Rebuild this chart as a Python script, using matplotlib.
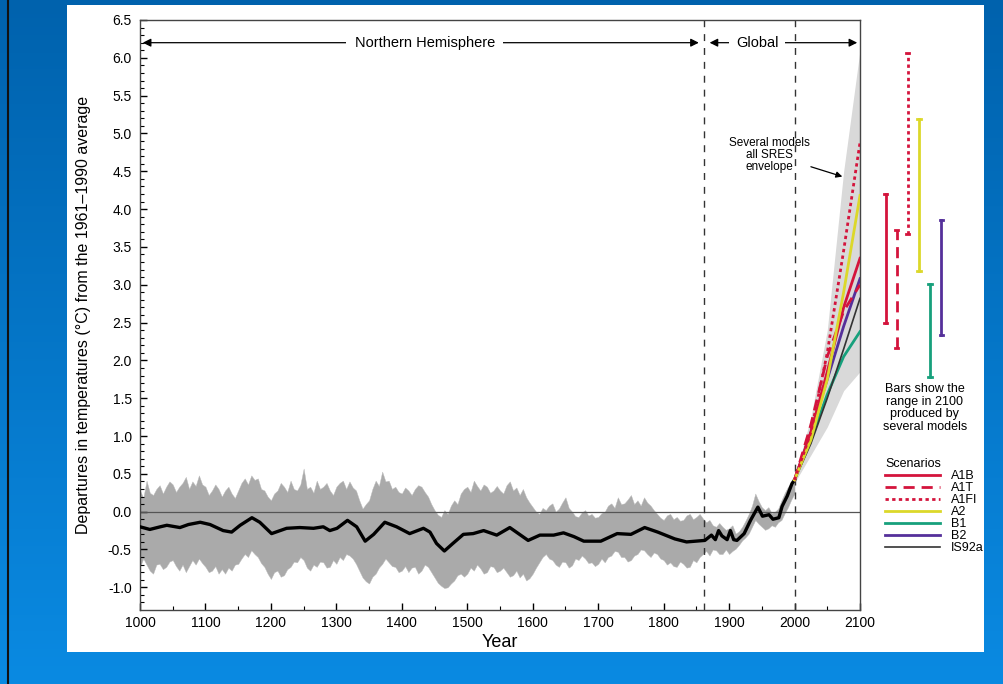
import numpy as np
import matplotlib
matplotlib.use('Agg')
import matplotlib.pyplot as plt
from matplotlib.patches import Rectangle
from matplotlib.lines import Line2D

plt.rcParams['font.family'] = ['Liberation Sans', 'DejaVu Sans']

# NH reconstruction band (upper / lower edge), every 5 years
band_years = list(range(1000, 2001, 5))
band_upper = [0.28, 0.18, 0.41, 0.25, 0.22, 0.30, 0.35, 0.24, 0.33, 0.40,
              0.36, 0.26, 0.33, 0.38, 0.46, 0.30, 0.40, 0.34, 0.48, 0.36,
              0.33, 0.22, 0.28, 0.36, 0.30, 0.20, 0.28, 0.33, 0.24, 0.18,
              0.28, 0.38, 0.44, 0.36, 0.48, 0.42, 0.44, 0.30, 0.28, 0.20,
              0.15, 0.24, 0.28, 0.38, 0.33, 0.26, 0.41, 0.30, 0.28, 0.36,
              0.57, 0.30, 0.33, 0.25, 0.41, 0.30, 0.33, 0.38, 0.28, 0.22,
              0.33, 0.38, 0.41, 0.30, 0.40, 0.32, 0.28, 0.15, 0.04, 0.10,
              0.15, 0.30, 0.41, 0.34, 0.53, 0.40, 0.41, 0.30, 0.33, 0.26,
              0.24, 0.32, 0.28, 0.22, 0.30, 0.35, 0.33, 0.26, 0.20, 0.10,
              0.02, -0.04, -0.07, 0.02, -0.03, 0.08, 0.15, 0.10, 0.24, 0.30,
              0.33, 0.26, 0.41, 0.34, 0.28, 0.36, 0.33, 0.25, 0.28, 0.34,
              0.28, 0.24, 0.35, 0.40, 0.28, 0.32, 0.22, 0.30, 0.19, 0.12,
              0.06, 0.00, -0.03, 0.05, 0.02, 0.08, 0.11, 0.00, 0.04, 0.12,
              0.19, 0.05, 0.00, -0.06, -0.07, -0.01, 0.02, -0.05, -0.03, -0.08,
              -0.07, -0.02, 0.00, 0.08, 0.11, 0.05, 0.19, 0.10, 0.11, 0.16,
              0.22, 0.10, 0.15, 0.08, 0.19, 0.12, 0.08, 0.02, -0.03, -0.08,
              -0.11, -0.05, -0.03, -0.10, -0.07, -0.12, -0.11, -0.05, -0.03, -0.10,
              -0.07, -0.03, -0.09, -0.14, -0.11, -0.18, -0.20, -0.15, -0.20, -0.24,
              -0.22, -0.18, -0.29, -0.26, -0.20, -0.12, -0.03, 0.08, 0.24, 0.14,
              0.06, 0.02, 0.06, -0.02, 0.00, 0.04, 0.15, 0.25, 0.33, 0.38,
              0.42]
band_lower = [-0.73, -0.62, -0.70, -0.78, -0.82, -0.70, -0.69, -0.76, -0.73, -0.66,
              -0.64, -0.72, -0.78, -0.70, -0.80, -0.72, -0.64, -0.70, -0.62, -0.68,
              -0.73, -0.80, -0.78, -0.72, -0.82, -0.76, -0.82, -0.74, -0.78, -0.70,
              -0.69, -0.62, -0.56, -0.60, -0.51, -0.56, -0.60, -0.68, -0.73, -0.82,
              -0.89, -0.80, -0.78, -0.86, -0.84, -0.76, -0.73, -0.66, -0.67, -0.60,
              -0.64, -0.74, -0.78, -0.70, -0.73, -0.66, -0.67, -0.74, -0.73, -0.64,
              -0.69, -0.60, -0.64, -0.56, -0.58, -0.62, -0.69, -0.78, -0.87, -0.92,
              -0.95, -0.86, -0.82, -0.74, -0.69, -0.62, -0.67, -0.72, -0.73, -0.80,
              -0.78, -0.72, -0.80, -0.74, -0.73, -0.82, -0.78, -0.70, -0.73, -0.80,
              -0.87, -0.94, -0.98, -1.01, -1.00, -0.95, -0.91, -0.84, -0.82, -0.86,
              -0.82, -0.74, -0.78, -0.70, -0.75, -0.82, -0.80, -0.72, -0.73, -0.80,
              -0.78, -0.74, -0.80, -0.86, -0.84, -0.78, -0.87, -0.82, -0.91, -0.88,
              -0.82, -0.74, -0.67, -0.60, -0.56, -0.62, -0.64, -0.70, -0.73, -0.66,
              -0.67, -0.74, -0.71, -0.62, -0.64, -0.58, -0.62, -0.68, -0.67, -0.72,
              -0.69, -0.62, -0.67, -0.60, -0.58, -0.52, -0.53, -0.60, -0.60, -0.66,
              -0.64, -0.58, -0.56, -0.50, -0.51, -0.56, -0.60, -0.54, -0.56, -0.62,
              -0.64, -0.70, -0.67, -0.72, -0.73, -0.66, -0.69, -0.74, -0.73, -0.64,
              -0.67, -0.60, -0.56, -0.52, -0.58, -0.50, -0.51, -0.56, -0.56, -0.50,
              -0.56, -0.52, -0.49, -0.44, -0.38, -0.34, -0.29, -0.20, -0.11, -0.16,
              -0.20, -0.24, -0.22, -0.18, -0.20, -0.14, -0.11, -0.02, 0.06, 0.16,
              0.24]

# smoothed record (black line)
obs_years = [1000, 1015, 1031, 1041, 1061, 1074, 1092, 1107, 1127, 1140,
             1153, 1171, 1183, 1201, 1224, 1244, 1265, 1280, 1290, 1301,
             1317, 1331, 1344, 1357, 1374, 1392, 1412, 1433, 1443, 1453,
             1465, 1478, 1494, 1509, 1525, 1545, 1565, 1593, 1611, 1632,
             1647, 1663, 1678, 1704, 1729, 1750, 1771, 1791, 1817, 1835,
             1863, 1873, 1879, 1884, 1889, 1897, 1902, 1907, 1912, 1923,
             1933, 1944, 1951, 1961, 1967, 1976, 1981, 1989, 1996, 2000]
obs_temp = [-0.20, -0.235, -0.20, -0.18, -0.21, -0.17, -0.14, -0.17, -0.25, -0.27,
            -0.18, -0.08, -0.14, -0.29, -0.22, -0.21, -0.22, -0.20, -0.25, -0.22,
            -0.115, -0.20, -0.39, -0.30, -0.14, -0.20, -0.29, -0.22, -0.27, -0.42,
            -0.52, -0.42, -0.30, -0.29, -0.25, -0.31, -0.21, -0.38, -0.31, -0.31,
            -0.28, -0.33, -0.39, -0.39, -0.29, -0.30, -0.21, -0.27, -0.36, -0.40,
            -0.38, -0.31, -0.37, -0.25, -0.32, -0.37, -0.25, -0.37, -0.38, -0.29,
            -0.11, 0.06, -0.06, -0.04, -0.10, -0.08, 0.07, 0.21, 0.37, 0.42]

# projections
proj_years = [2000, 2025, 2050, 2075, 2100]
env_upper = [0.44, 1.25, 2.40, 4.50, 6.10]
env_lower = [0.38, 0.75, 1.12, 1.60, 1.85]
scen_names = ['A1B', 'A1T', 'A1FI', 'A2', 'B1', 'B2', 'IS92a']
scen_values = {
    'A1B':   [0.42, 1.05, 1.85, 2.70, 3.35],
    'A1T':   [0.42, 1.15, 2.05, 2.65, 3.00],
    'A1FI':  [0.42, 1.05, 2.10, 3.45, 4.88],
    'A2':    [0.42, 0.95, 1.75, 2.90, 4.18],
    'B1':    [0.42, 0.95, 1.55, 2.05, 2.38],
    'B2':    [0.42, 1.05, 1.75, 2.45, 3.08],
    'IS92a': [0.42, 0.90, 1.50, 2.15, 2.82],
}
# ranges in 2100 (bars to the right)
bar_names = ['A1B', 'A1T', 'A1FI', 'A2', 'B1', 'B2']
bar_low = [2.50, 2.16, 3.67, 3.18, 1.78, 2.33]
bar_high = [4.20, 3.73, 6.07, 5.19, 3.01, 3.86]

colors = {'A1B': '#d4143c', 'A1T': '#d4143c', 'A1FI': '#d4143c',
          'A2': '#dcd82a', 'B1': '#17a07c', 'B2': '#55309a', 'IS92a': '#333333'}
styles = {'A1B': '-', 'A1T': (0, (4, 2.5)), 'A1FI': (0, (1.2, 1.2)),
          'A2': '-', 'B1': '-', 'B2': '-', 'IS92a': '-'}

fig = plt.figure(figsize=(10.04, 6.84), dpi=100)

# slide background
bg = fig.add_axes([0, 0, 1, 1], zorder=-10)
grad = np.linspace(0, 1, 256).reshape(-1, 1)
cmap = matplotlib.colors.LinearSegmentedColormap.from_list('bg', ['#0062ad', '#0a8ae2'])
bg.imshow(grad, aspect='auto', cmap=cmap, extent=[0, 1, 0, 1])
bg.axis('off')
fig.add_artist(Line2D([0.008, 0.008], [0, 1], color='#111111', lw=1.5, transform=fig.transFigure))
fig.add_artist(Rectangle((67 / 1004, 32 / 684), 917 / 1004, 647 / 684,
                         transform=fig.transFigure, facecolor='white', edgecolor='none', zorder=-5))

ax = fig.add_axes([140 / 1004, 74 / 684, 720 / 1004, 590 / 684])
ax.set_facecolor('none')

ax.fill_between(band_years, band_lower, band_upper, color='#aaaaaa', lw=0.3,
                edgecolor='#bbbbbb', zorder=1)
ax.fill_between(proj_years, env_lower, env_upper, color='#d9d9d9', lw=0, zorder=1)
ax.axhline(0, color='#555555', lw=0.9, zorder=2)
for xv in [1861, 2000]:
    ax.axvline(xv, color='#333333', lw=1.0, ls=(0, (5, 5)), zorder=2)
ax.plot(obs_years, obs_temp, color='black', lw=2.4, zorder=4, solid_joinstyle='round')

for name in ['B1', 'IS92a', 'B2', 'A1T', 'A1B', 'A2', 'A1FI']:
    ax.plot(proj_years, scen_values[name], color=colors[name], ls=styles[name],
            lw=2.0 if name != 'IS92a' else 1.2, zorder=5)

# range bars beyond 2100
bar_x0, bar_dx = 2139, 17
for i, name in enumerate(bar_names):
    xb = bar_x0 + i * bar_dx
    ax.plot([xb, xb], [bar_low[i], bar_high[i]], color=colors[name], ls=styles[name],
            lw=2.0, clip_on=False)
    for yv in (bar_low[i], bar_high[i]):
        ax.plot([xb - 2.5, xb + 2.5], [yv, yv], color=colors[name], lw=2.0, clip_on=False)

ax.text(2199, 1.37, 'Bars show the\nrange in 2100\nproduced by\nseveral models', ha='center',
        va='center', fontsize=9, linespacing=1.05, clip_on=False)

handles = [Line2D([], [], color=colors[n], ls=styles[n], lw=2.0 if n != 'IS92a' else 1.2)
           for n in scen_names]
leg = ax.legend(handles, scen_names, title='Scenarios', loc='upper left',
                bbox_to_anchor=(885 / 1004, 1 - 458 / 684), bbox_transform=fig.transFigure,
                frameon=False, fontsize=9, title_fontsize=9, handlelength=4.4,
                handletextpad=0.9, labelspacing=0.0, borderpad=0, borderaxespad=0)
leg._legend_box.align = 'left'

# region labels
ax.annotate('', xy=(1000, 6.2), xytext=(1858, 6.2),
            arrowprops=dict(arrowstyle='<|-|>', color='black', lw=0.9, mutation_scale=12))
ax.text(1435, 6.2, 'Northern Hemisphere', ha='center', va='center', fontsize=10.5,
        bbox=dict(facecolor='white', edgecolor='none', pad=6))
ax.annotate('', xy=(1866, 6.2), xytext=(2100, 6.2),
            arrowprops=dict(arrowstyle='<|-|>', color='black', lw=0.9, mutation_scale=12))
ax.text(1943, 6.2, 'Global', ha='center', va='center', fontsize=10.5,
        bbox=dict(facecolor='white', edgecolor='none', pad=5))

ax.text(1962, 4.72, 'Several models\nall SRES\nenvelope', ha='center', va='center',
        fontsize=8.5, linespacing=1.0)
ax.annotate('', xy=(2073, 4.43), xytext=(2025, 4.56),
            arrowprops=dict(arrowstyle='-|>', color='black', lw=0.9, mutation_scale=9,
                            shrinkA=0, shrinkB=0))

ax.set_xlim(1000, 2100)
ax.set_ylim(-1.3, 6.5)
ax.set_xticks(range(1000, 2101, 100))
ax.set_xticks(range(1050, 2100, 100), minor=True)
yt = np.arange(-1.0, 6.51, 0.5)
ax.set_yticks(yt)
ax.set_yticklabels(['%.1f' % v for v in yt])
ax.set_yticks(np.arange(-1.2, 6.5, 0.1), minor=True)
ax.tick_params(direction='in', length=5, width=1, labelsize=10)
ax.tick_params(which='minor', direction='in', length=3, width=0.8)
ax.tick_params(axis='x', pad=4)
ax.tick_params(axis='y', pad=6)
for s in ax.spines.values():
    s.set_color('#444444')
    s.set_linewidth(1.0)

ax.set_xlabel('Year', fontsize=13, labelpad=3)
ax.set_ylabel('Departures in temperatures (\u00b0C) from the 1961\u20131990 average',
              fontsize=11.5, labelpad=12)

fig.savefig('out.png', dpi=100)
